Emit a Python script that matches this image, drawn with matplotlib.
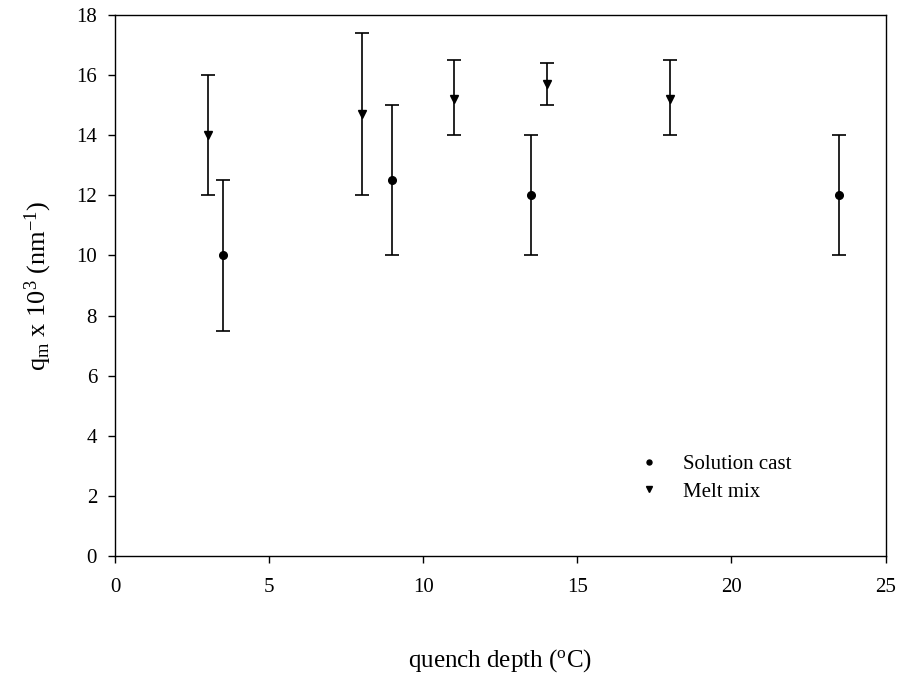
#!/usr/bin/env python
# -*- coding: utf-8 -*-

"""Peak position q_m against quench depth for the two blend preparations."""

import matplotlib
matplotlib.use("Agg")
import matplotlib.pyplot as plt

# solution cast samples
sc_depth = [3.5, 9.0, 13.5, 23.5]
sc_qm = [10.0, 12.5, 12.0, 12.0]
sc_low = [7.5, 10.0, 10.0, 10.0]
sc_high = [12.5, 15.0, 14.0, 14.0]

# melt mixed samples
mm_depth = [3.0, 8.0, 11.0, 14.0, 18.0]
mm_qm = [14.0, 14.7, 15.2, 15.7, 15.2]
mm_low = [12.0, 12.0, 14.0, 15.0, 14.0]
mm_high = [16.0, 17.4, 16.5, 16.4, 16.5]

x_ticks = [0, 5, 10, 15, 20, 25]
y_ticks = [0, 2, 4, 6, 8, 10, 12, 14, 16, 18]


def errs(mid, low, high):
    return [[m - l for m, l in zip(mid, low)], [h - m for m, h in zip(mid, high)]]


def main():
    plt.rcParams["font.family"] = ["Liberation Serif", "DejaVu Serif"]
    plt.rcParams["mathtext.fontset"] = "custom"
    plt.rcParams["mathtext.rm"] = "Liberation Serif"
    plt.rcParams["mathtext.it"] = "Liberation Serif:italic"

    fig = plt.figure(figsize=(8.99, 6.75), dpi=100)
    ax = fig.add_axes([0.128, 0.176, 0.857, 0.802])

    ax.errorbar(sc_depth, sc_qm, yerr=errs(sc_qm, sc_low, sc_high), fmt="o",
                color="black", ms=5.5, capsize=5, elinewidth=1.2, capthick=1.2,
                label="Solution cast")
    ax.errorbar(mm_depth, mm_qm, yerr=errs(mm_qm, mm_low, mm_high), fmt="v",
                color="black", ms=6, capsize=5, elinewidth=1.2, capthick=1.2,
                label="Melt mix")

    ax.set_xlim(0, 25)
    ax.set_ylim(0, 18)
    ax.set_xticks(x_ticks)
    ax.set_yticks(y_ticks)
    ax.tick_params(direction="out", length=5, width=1, labelsize=15, pad=11,
                   top=False, right=False)
    ax.tick_params(axis="y", pad=8)
    for s in ax.spines.values():
        s.set_linewidth(1)

    ax.set_xlabel("quench depth ($^{\\rm o}$C)", fontsize=18, labelpad=36)
    ax.set_ylabel("q$_{\\rm m}$ x 10$^{3}$ (nm$^{-1}$)", fontsize=19, labelpad=16)

    h, l = ax.get_legend_handles_labels()
    h = [hh[0] for hh in h]
    ax.legend(h, l, loc="lower left", bbox_to_anchor=(0.648, 0.066),
              frameon=False, fontsize=15, markerscale=0.65,
              handlelength=1.5, handletextpad=0.9, labelspacing=0.4)

    fig.savefig("out.png", dpi=100)
    plt.close()


if __name__ == "__main__":
    main()
